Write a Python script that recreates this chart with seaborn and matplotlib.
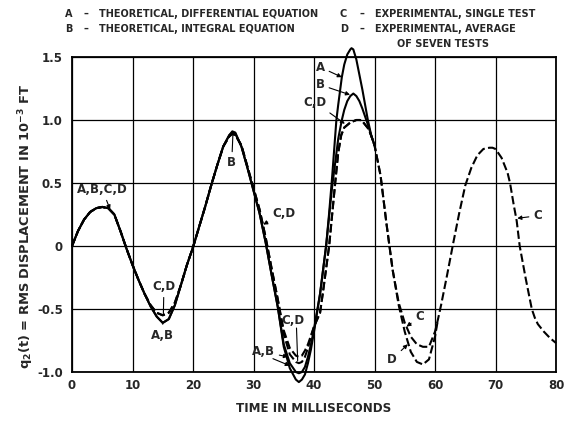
import matplotlib
matplotlib.use("Agg")
import matplotlib.pyplot as plt
import seaborn as sns
import pandas as pd

# ---------------- data ----------------
A_t = [0, 1, 2, 3, 4, 5, 6, 7, 8, 9, 10, 11, 12, 13, 14, 15, 16, 17, 18, 19, 20,
       21, 22, 23, 24, 25, 26, 26.5, 27, 28, 29, 30, 31, 32, 33, 34,
       35, 36, 37, 37.5, 38, 38.5, 39, 39.5, 40, 41, 42, 42.5, 43, 43.7, 44, 44.6,
       45, 45.5, 46, 46.2, 46.5, 47, 48, 48.9, 49.5, 50]
A_y = [0, 0.12, 0.21, 0.27, 0.30, 0.31, 0.30, 0.25, 0.12, -0.02, -0.15, -0.27, -0.38, -0.48, -0.56, -0.61, -0.58, -0.47, -0.31, -0.15, -0.01,
       0.15, 0.31, 0.48, 0.64, 0.79, 0.88, 0.91, 0.90, 0.79, 0.62, 0.44, 0.26, 0.03, -0.23, -0.48,
       -0.80, -0.97, -1.06, -1.08, -1.06, -1.02, -0.93, -0.82, -0.68, -0.38, 0.0, 0.26, 0.55, 1.0, 1.12, 1.34,
       1.44, 1.52, 1.56, 1.57, 1.56, 1.48, 1.24, 1.0, 0.87, 0.80]

B_t = [0, 1, 2, 3, 4, 5, 6, 7, 8, 9, 10, 11, 12, 13, 14, 15, 16, 17, 18, 19, 20,
       21, 22, 23, 24, 25, 26, 26.5, 27, 28, 29, 30, 31, 32, 33, 34,
       35, 36, 37, 37.5, 38, 38.5, 39, 39.5, 40, 41, 42, 43, 44, 44.6, 45, 45.5,
       46, 46.5, 47, 47.5, 48, 48.5, 49, 49.5, 50]
B_y = [0, 0.12, 0.21, 0.27, 0.30, 0.31, 0.30, 0.25, 0.12, -0.02, -0.15, -0.27, -0.38, -0.48, -0.56, -0.61, -0.58, -0.47, -0.31, -0.15, -0.01,
       0.15, 0.31, 0.48, 0.64, 0.79, 0.88, 0.90, 0.89, 0.79, 0.62, 0.44, 0.26, 0.03, -0.23, -0.48,
       -0.78, -0.93, -1.00, -1.01, -1.00, -0.96, -0.88, -0.78, -0.66, -0.38, 0.0, 0.47, 0.85, 1.0, 1.08, 1.15,
       1.19, 1.21, 1.19, 1.15, 1.09, 1.02, 0.95, 0.87, 0.80]

C_t = [0, 1, 2, 3, 4, 5, 6, 7, 8, 9, 10, 11, 12, 13, 14, 15, 16, 17, 18, 19, 20,
       21, 22, 23, 24, 25, 26, 26.5, 27, 28, 29, 30, 31, 32, 33, 34,
       35, 36, 37, 37.5, 38, 38.5, 39, 39.5, 40, 41, 41.5, 42, 42.5, 43, 43.5, 44, 44.5,
       45, 46, 47, 47.6, 48, 49, 49.5, 50, 51, 52, 53, 54, 55, 56, 57, 58, 59, 60, 60.5,
       61, 62, 63, 64, 65, 66, 67, 68, 69, 69.5, 70, 71, 72, 72.4, 73, 73.5, 74, 75, 76,
       76.5, 77, 78, 79, 80]
C_y = [0, 0.12, 0.21, 0.27, 0.30, 0.31, 0.30, 0.25, 0.12, -0.02, -0.15, -0.27, -0.38, -0.47, -0.53, -0.55, -0.53, -0.45, -0.31, -0.15, -0.01,
       0.15, 0.31, 0.48, 0.64, 0.79, 0.87, 0.89, 0.88, 0.80, 0.63, 0.46, 0.29, 0.07, -0.18, -0.42,
       -0.67, -0.81, -0.87, -0.88, -0.87, -0.83, -0.78, -0.71, -0.64, -0.53, -0.36, -0.18, 0.0, 0.25, 0.50, 0.74, 0.88,
       0.94, 0.98, 1.0, 1.0, 0.99, 0.93, 0.87, 0.80, 0.56, 0.17, -0.19, -0.45, -0.61, -0.72, -0.78, -0.80, -0.80, -0.68, -0.58,
       -0.47, -0.23, 0.02, 0.26, 0.48, 0.62, 0.72, 0.77, 0.78, 0.78, 0.77, 0.70, 0.58, 0.50, 0.33, 0.20, 0.0, -0.26, -0.50,
       -0.57, -0.62, -0.68, -0.73, -0.77]

D_t = [0, 1, 2, 3, 4, 5, 6, 7, 8, 9, 10, 11, 12, 13, 14, 15, 16, 17, 18, 19, 20,
       21, 22, 23, 24, 25, 26, 26.5, 27, 28, 29, 30, 31, 32, 33, 34,
       35, 36, 37, 37.5, 38, 38.5, 39, 39.5, 40, 41, 41.5, 42, 42.5, 43, 43.5, 44, 44.5,
       45, 46, 47, 47.6, 48, 49, 49.5, 50, 51, 52, 53, 54, 55, 56, 57, 58, 59, 60, 60.5]
D_y = [0, 0.12, 0.21, 0.27, 0.30, 0.31, 0.30, 0.25, 0.12, -0.02, -0.15, -0.27, -0.38, -0.47, -0.53, -0.55, -0.53, -0.45, -0.31, -0.15, -0.01,
       0.15, 0.31, 0.48, 0.64, 0.79, 0.87, 0.89, 0.88, 0.80, 0.63, 0.46, 0.29, 0.07, -0.18, -0.42,
       -0.70, -0.86, -0.92, -0.93, -0.92, -0.88, -0.81, -0.72, -0.64, -0.53, -0.36, -0.18, 0.0, 0.25, 0.50, 0.74, 0.88,
       0.94, 0.98, 1.0, 1.0, 0.99, 0.93, 0.87, 0.80, 0.56, 0.17, -0.19, -0.47, -0.68, -0.84, -0.92, -0.94, -0.90, -0.72, -0.58]

x_ticks = [0, 10, 20, 30, 40, 50, 60, 70, 80]
y_ticks = [-1.0, -0.5, 0, 0.5, 1.0, 1.5]
y_tick_labels = ["-1.0", "-0.5", "0", "0.5", "1.0", "1.5"]

legend_left = [("A", "THEORETICAL, DIFFERENTIAL EQUATION"),
               ("B", "THEORETICAL, INTEGRAL EQUATION")]
legend_right = [("C", "EXPERIMENTAL, SINGLE TEST"),
                ("D", "EXPERIMENTAL, AVERAGE")]

# ---------------- style ----------------
sns.set_style("white")
FONT = "DejaVu Sans"
plt.rcParams["font.family"] = [FONT]
plt.rcParams["font.weight"] = "bold"
plt.rcParams["mathtext.fontset"] = "custom"
plt.rcParams["mathtext.bf"] = FONT + ":bold"
plt.rcParams["mathtext.rm"] = FONT + ":bold"
plt.rcParams["mathtext.default"] = "bf"

fig = plt.figure(figsize=(5.68, 4.22), dpi=100)
ax = fig.add_axes([72 / 568, 1 - 372 / 422, (556 - 72) / 568, (372 - 57) / 422])

dash = (0, (4.0, 1.6))
series = [(A_t, A_y, "-"), (B_t, B_y, "-"), (C_t, C_y, dash), (D_t, D_y, dash)]
for t, y, ls in series:
    df = pd.DataFrame({"t": t, "y": y})
    n_before = len(ax.lines)
    sns.lineplot(data=df, x="t", y="y", ax=ax, color="black", lw=1.5,
                 sort=False, estimator=None)
    for ln in ax.lines[n_before:]:
        ln.set_linestyle(ls)
        ln.set_clip_on(False)

ax.set_xlim(0, 80)
ax.set_ylim(-1.0, 1.5)
ax.set_xticks(x_ticks)
ax.set_yticks(y_ticks)
ax.set_yticklabels(y_tick_labels)
ax.grid(True, color="black", lw=0.9)
ax.set_axisbelow(True)
ax.tick_params(length=0, labelsize=8.5)
ax.tick_params(axis="x", pad=5)
ax.tick_params(axis="y", pad=6.5)
for lab in ax.get_xticklabels() + ax.get_yticklabels():
    lab.set_fontweight("bold")
for sp in ax.spines.values():
    sp.set_color("black")
    sp.set_linewidth(1.3)
ax.set_xlabel("")
ax.set_ylabel("")

fig.text(314 / 568, 1 - 409 / 422, "TIME IN MILLISECONDS", fontsize=8.6,
         fontweight="bold", ha="center", va="center")
fig.text(26 / 568, 1 - 226 / 422, r"q$_2$(t) = RMS DISPLACEMENT IN 10$^{-3}$ FT",
         fontsize=9.4, fontweight="bold", ha="center", va="center", rotation=90)

# ---------------- annotations ----------------
arrow = dict(arrowstyle="-|>", color="black", lw=0.8, mutation_scale=6,
             shrinkA=1, shrinkB=0)
line = dict(arrowstyle="-", color="black", lw=0.8, shrinkA=1, shrinkB=0)
fs = 8.5
def ann(txt, xy, xytext, props=arrow):
    ax.annotate(txt, xy=xy, xytext=xytext, ha="center", va="center",
                fontsize=fs, fontweight="bold", arrowprops=props,
                annotation_clip=False)

ann("A,B,C,D", (6.3, 0.29), (5.0, 0.45))
ann("C,D", (15.1, -0.54), (15.2, -0.32), line)
ann("A,B", (15.0, -0.62), (14.9, -0.71), line)
ann("B", (26.6, 0.89), (26.4, 0.66), line)
ann("C,D", (31.6, 0.17), (35.0, 0.26))
ann("C,D", (34.9, -0.67), (36.5, -0.59), line)
ax.annotate("", xy=(37.3, -0.91), xytext=(37.1, -0.64), arrowprops=line)
ann("A,B", (35.7, -0.88), (31.6, -0.84))
ax.annotate("", xy=(36.0, -0.95), xytext=(33.0, -0.89), arrowprops=arrow)
ann("A", (44.6, 1.34), (41.0, 1.42))
ann("B", (45.95, 1.20), (41.0, 1.28))
ann("C,D", (45.1, 0.97), (40.2, 1.14))
ann("C", (73.6, 0.22), (77.0, 0.24))
ann("C", (55.3, -0.64), (57.5, -0.56))
ann("D", (55.5, -0.78), (52.9, -0.90))

# ---------------- header legend ----------------
hs = 7.0
for i, (k, txt) in enumerate(legend_left):
    yy = 1 - (14 + 15 * i) / 422
    fig.text(65 / 568, yy, k, fontsize=hs, fontweight="bold", va="center")
    fig.text(84 / 568, yy, "\u2013", fontsize=hs, fontweight="bold", va="center")
    fig.text(99 / 568, yy, txt, fontsize=hs, fontweight="bold", va="center")
for i, (k, txt) in enumerate(legend_right):
    yy = 1 - (14 + 15 * i) / 422
    fig.text(340 / 568, yy, k, fontsize=hs, fontweight="bold", va="center")
    fig.text(359 / 568, yy, "\u2013", fontsize=hs, fontweight="bold", va="center")
    fig.text(375 / 568, yy, txt, fontsize=hs, fontweight="bold", va="center")
fig.text(397 / 568, 1 - 44 / 422, "OF SEVEN TESTS", fontsize=hs, fontweight="bold", va="center")

fig.savefig("out.png", dpi=100)
